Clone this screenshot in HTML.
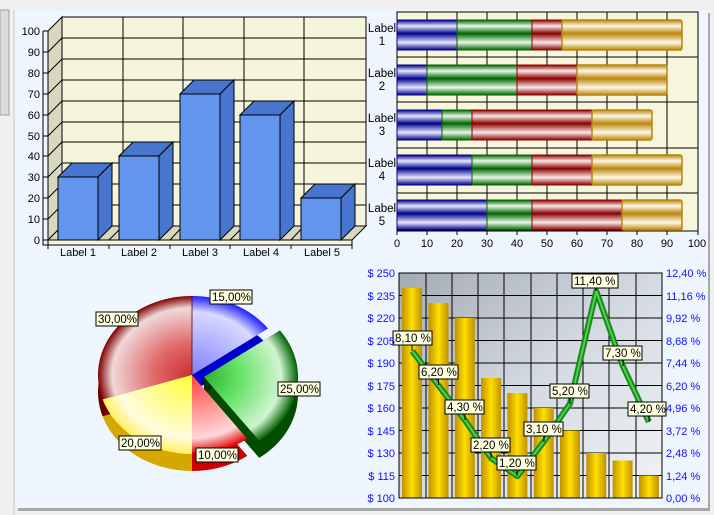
<!DOCTYPE html>
<html><head><meta charset="utf-8"><style>
html,body{margin:0;padding:0;width:714px;height:515px;overflow:hidden;background:#f0f0f0}
svg{display:block;font-family:"Liberation Sans",Tahoma,sans-serif;font-size:11px}
</style></head><body>
<svg width="714" height="515" viewBox="0 0 714 515" xmlns="http://www.w3.org/2000/svg">
<defs>
<linearGradient id="gb" x1="0" y1="0" x2="0" y2="1"><stop offset="0" stop-color="#00008b"/><stop offset=".2" stop-color="#e8e8ff"/><stop offset=".45" stop-color="#00008b"/><stop offset=".75" stop-color="#e8e8ff"/><stop offset="1" stop-color="#00008b"/></linearGradient>
<linearGradient id="gg" x1="0" y1="0" x2="0" y2="1"><stop offset="0" stop-color="#006400"/><stop offset=".2" stop-color="#e8f8e8"/><stop offset=".45" stop-color="#006400"/><stop offset=".75" stop-color="#e8f8e8"/><stop offset="1" stop-color="#006400"/></linearGradient>
<linearGradient id="gr" x1="0" y1="0" x2="0" y2="1"><stop offset="0" stop-color="#8b0000"/><stop offset=".2" stop-color="#fbe8e8"/><stop offset=".45" stop-color="#8b0000"/><stop offset=".75" stop-color="#fbe8e8"/><stop offset="1" stop-color="#8b0000"/></linearGradient>
<linearGradient id="go" x1="0" y1="0" x2="0" y2="1"><stop offset="0" stop-color="#b8860b"/><stop offset=".2" stop-color="#fff8e8"/><stop offset=".45" stop-color="#b8860b"/><stop offset=".75" stop-color="#fff8e8"/><stop offset="1" stop-color="#b8860b"/></linearGradient>
<linearGradient id="gold" x1="0" y1="0" x2="1" y2="0"><stop offset="0" stop-color="#c09000"/><stop offset=".5" stop-color="#ffe000"/><stop offset="1" stop-color="#c09000"/></linearGradient>
<linearGradient id="bg4" x1="0" y1="0" x2="1" y2="1"><stop offset="0" stop-color="#a4aab4"/><stop offset=".5" stop-color="#d4dae2"/><stop offset="1" stop-color="#f0f4f8"/></linearGradient>
<radialGradient id="pb" gradientUnits="userSpaceOnUse" cx="192" cy="375" r="94" gradientTransform="translate(0,375) scale(1,.84) translate(0,-375)"><stop offset="0" stop-color="#8080ff"/><stop offset=".8" stop-color="#d8d8ff"/><stop offset="1" stop-color="#2020ff"/></radialGradient>
<radialGradient id="pg" gradientUnits="userSpaceOnUse" cx="204" cy="377" r="94" gradientTransform="translate(0,377) scale(1,.84) translate(0,-377)"><stop offset="0" stop-color="#30b030"/><stop offset=".35" stop-color="#60e060"/><stop offset=".82" stop-color="#d0f4d0"/><stop offset="1" stop-color="#006000"/></radialGradient>
<radialGradient id="pr" gradientUnits="userSpaceOnUse" cx="192" cy="375" r="94" gradientTransform="translate(0,375) scale(1,.84) translate(0,-375)"><stop offset="0" stop-color="#ff4040"/><stop offset=".8" stop-color="#ffd8d8"/><stop offset="1" stop-color="#e00000"/></radialGradient>
<radialGradient id="py" gradientUnits="userSpaceOnUse" cx="192" cy="375" r="94" gradientTransform="translate(0,375) scale(1,.84) translate(0,-375)"><stop offset="0" stop-color="#ffff30"/><stop offset=".8" stop-color="#fffbe0"/><stop offset="1" stop-color="#fff060"/></radialGradient>
<radialGradient id="pd" gradientUnits="userSpaceOnUse" cx="192" cy="375" r="94" gradientTransform="translate(0,375) scale(1,.84) translate(0,-375)"><stop offset="0" stop-color="#c83030"/><stop offset=".4" stop-color="#e06868"/><stop offset=".85" stop-color="#f0d8d8"/><stop offset="1" stop-color="#800000"/></radialGradient>
</defs>
<!-- frame -->
<rect x="0" y="10" width="9" height="105" fill="#dcdcdc" stroke="#a0a0a0"/>
<line x1="14" y1="10" x2="14" y2="515" stroke="#c8c8c8"/>
<rect x="18" y="13" width="692" height="498" fill="#a8a8a8"/>
<rect x="15" y="10" width="693" height="498" fill="#eef5fd"/>

<!-- Chart 1 -->
<rect x="62" y="17" width="304" height="209" fill="#f5f5dc" stroke="#000"/>
<polygon points="48,31 62,17 62,226 48,240" fill="#d8d8c0" stroke="#000"/>
<polygon points="48,240 62,226 366,226 352,240" fill="#d8d8c0" stroke="#000"/>
<g stroke="#000" stroke-width="1">
<path d="M62,38H366M62,59H366M62,80H366M62,101H366M62,122H366M62,142H366M62,163H366M62,184H366M62,205H366"/>
<path d="M48,52L62,38M48,73L62,59M48,94L62,80M48,115L62,101M48,136L62,122M48,156L62,142M48,177L62,163M48,198L62,184M48,219L62,205"/>
<path d="M123,17V226M183,17V226M244,17V226M304,17V226"/>
<path d="M109,240L123,226M170,240L183,226M230,240L244,226M291,240L304,226"/>
</g>
<rect x="48" y="240" width="304" height="5" fill="#f5f5dc" stroke="#000"/>
<path d="M43,31V245H352M43,31h5M43,52h5M43,73h5M43,94h5M43,115h5M43,136h5M43,156h5M43,177h5M43,198h5M43,219h5M43,240h5M48,245v4M109,245v4M170,245v4M230,245v4M291,245v4M352,245v4" stroke="#000" fill="none"/>
<g text-anchor="end" fill="#000">
<text x="40" y="35">100</text><text x="40" y="56">90</text><text x="40" y="77">80</text><text x="40" y="98">70</text><text x="40" y="119">60</text><text x="40" y="140">50</text><text x="40" y="160">40</text><text x="40" y="181">30</text><text x="40" y="202">20</text><text x="40" y="223">10</text><text x="40" y="244">0</text>
</g>
<g text-anchor="middle"><text x="78" y="256">Label 1</text><text x="139" y="256">Label 2</text><text x="200" y="256">Label 3</text><text x="261" y="256">Label 4</text><text x="322" y="256">Label 5</text></g>
<g stroke="#000" stroke-width="1">
<polygon points="58,177 72,163 112,163 98,177" fill="#4876cf"/><polygon points="98,177 112,163 112,226 98,240" fill="#4876cf"/><rect x="58" y="177" width="40" height="63" fill="#6495ed"/>
<polygon points="119,156 133,142 173,142 159,156" fill="#4876cf"/><polygon points="159,156 173,142 173,226 159,240" fill="#4876cf"/><rect x="119" y="156" width="40" height="84" fill="#6495ed"/>
<polygon points="180,94 194,80 234,80 220,94" fill="#4876cf"/><polygon points="220,94 234,80 234,226 220,240" fill="#4876cf"/><rect x="180" y="94" width="40" height="146" fill="#6495ed"/>
<polygon points="240,115 254,101 294,101 280,115" fill="#4876cf"/><polygon points="280,115 294,101 294,226 280,240" fill="#4876cf"/><rect x="240" y="115" width="40" height="125" fill="#6495ed"/>
<polygon points="301,198 315,184 355,184 341,198" fill="#4876cf"/><polygon points="341,198 355,184 355,226 341,240" fill="#4876cf"/><rect x="301" y="198" width="40" height="42" fill="#6495ed"/>
</g>

<!-- Chart 2 -->
<rect x="397" y="12" width="301" height="219" fill="#f7f6dc" stroke="#000"/>
<g stroke="#000"><path d="M427,12V231M457,12V231M487,12V231M517,12V231M547,12V231M577,12V231M607,12V231M637,12V231M667,12V231"/>
<path d="M397,57H698M397,102H698M397,148H698M397,193H698"/>
<path d="M397,231v4M427,231v4M457,231v4M487,231v4M517,231v4M547,231v4M577,231v4M607,231v4M637,231v4M667,231v4M698,231v4"/></g>
<g>
<rect x="397" y="20" width="60" height="30" fill="url(#gb)" stroke="#00008b"/><rect x="457" y="20" width="75" height="30" fill="url(#gg)" stroke="#006400"/><rect x="532" y="20" width="30" height="30" fill="url(#gr)" stroke="#8b0000"/><rect x="562" y="20" width="120" height="30" rx="2" fill="url(#go)" stroke="#b8860b" stroke-width="1.5"/>
<rect x="397" y="65" width="30" height="30" fill="url(#gb)" stroke="#00008b"/><rect x="427" y="65" width="90" height="30" fill="url(#gg)" stroke="#006400"/><rect x="517" y="65" width="60" height="30" fill="url(#gr)" stroke="#8b0000"/><rect x="577" y="65" width="90" height="30" rx="2" fill="url(#go)" stroke="#b8860b" stroke-width="1.5"/>
<rect x="397" y="110" width="45" height="30" fill="url(#gb)" stroke="#00008b"/><rect x="442" y="110" width="30" height="30" fill="url(#gg)" stroke="#006400"/><rect x="472" y="110" width="120" height="30" fill="url(#gr)" stroke="#8b0000"/><rect x="592" y="110" width="60" height="30" rx="2" fill="url(#go)" stroke="#b8860b" stroke-width="1.5"/>
<rect x="397" y="155" width="75" height="30" fill="url(#gb)" stroke="#00008b"/><rect x="472" y="155" width="60" height="30" fill="url(#gg)" stroke="#006400"/><rect x="532" y="155" width="60" height="30" fill="url(#gr)" stroke="#8b0000"/><rect x="592" y="155" width="90" height="30" rx="2" fill="url(#go)" stroke="#b8860b" stroke-width="1.5"/>
<rect x="397" y="200" width="90" height="30" fill="url(#gb)" stroke="#00008b"/><rect x="487" y="200" width="45" height="30" fill="url(#gg)" stroke="#006400"/><rect x="532" y="200" width="90" height="30" fill="url(#gr)" stroke="#8b0000"/><rect x="622" y="200" width="60" height="30" rx="2" fill="url(#go)" stroke="#b8860b" stroke-width="1.5"/>
</g>
<g text-anchor="middle" font-size="11.5">
<text x="382" y="32">Label</text><text x="382" y="45">1</text>
<text x="382" y="77">Label</text><text x="382" y="90">2</text>
<text x="382" y="122">Label</text><text x="382" y="135">3</text>
<text x="382" y="167">Label</text><text x="382" y="180">4</text>
<text x="382" y="212">Label</text><text x="382" y="225">5</text>
</g>
<g text-anchor="middle"><text x="397" y="247">0</text><text x="427" y="247">10</text><text x="457" y="247">20</text><text x="487" y="247">30</text><text x="517" y="247">40</text><text x="547" y="247">50</text><text x="577" y="247">60</text><text x="607" y="247">70</text><text x="637" y="247">80</text><text x="667" y="247">90</text><text x="697" y="247">100</text></g>

<!-- Chart 3 pie -->
<g transform="translate(0,17)">
<path d="M192,375 L102.6,399.4 A94,79 0 0 1 192,296 Z" fill="#6b0000"/>
<path d="M192,375 L192,454 A94,79 0 0 1 102.6,399.4 Z" fill="#d4a800"/>
<path d="M192,375 L247.3,438.9 A94,79 0 0 1 192,454 Z" fill="#cc0000"/>
<path d="M192,375 L192,296 A94,79 0 0 1 268,328.5 Z" fill="#0000cc"/>
</g>
<path d="M204,377 L280,330.5 L280,347.5 L204,394 Z" fill="#0000cc"/>
<path d="M204,377 L259.3,440.9 L259.3,457.9 L204,394 Z" fill="#003000"/>
<path d="M204,394 L280,347.5 A94,79 0 0 1 259.3,457.9 Z" fill="#004d00"/>
<path d="M192,375 L102.6,399.4 A94,79 0 0 1 192,296 Z" fill="url(#pd)"/>
<path d="M192,375 L192,454 A94,79 0 0 1 102.6,399.4 Z" fill="url(#py)"/>
<path d="M192,375 L247.3,438.9 A94,79 0 0 1 192,454 Z" fill="url(#pr)"/>
<path d="M192,375 L192,296 A94,79 0 0 1 268,328.5 Z" fill="url(#pb)"/>
<path d="M204,377 L280,330.5 A94,79 0 0 1 259.3,440.9 Z" fill="url(#pg)"/>
<line x1="192" y1="296" x2="192" y2="375" stroke="#600000" stroke-width=".8"/>
<g font-size="11.5">
<rect x="210" y="290" width="42" height="14" fill="#ffffe0" stroke="#000"/><text x="212" y="301">15,00%</text>
<rect x="96" y="312" width="42" height="14" fill="#ffffe0" stroke="#000"/><text x="98" y="323">30,00%</text>
<rect x="278" y="382" width="42" height="14" fill="#ffffe0" stroke="#000"/><text x="280" y="393">25,00%</text>
<rect x="119" y="436" width="42" height="14" fill="#ffffe0" stroke="#000"/><text x="121" y="447">20,00%</text>
<rect x="196" y="448" width="42" height="14" fill="#ffffe0" stroke="#000"/><text x="198" y="459">10,00%</text>
</g>

<!-- Chart 4 -->
<rect x="399" y="273" width="263" height="225" fill="url(#bg4)"/>
<g stroke="#000"><path d="M426,273V498M452,273V498M478,273V498M504,273V498M531,273V498M557,273V498M583,273V498M609,273V498M636,273V498"/>
<path d="M399,295.5H662M399,318H662M399,340.5H662M399,363H662M399,385.5H662M399,408H662M399,430.5H662M399,453H662M399,475.5H662"/></g>
<g fill="url(#gold)">
<rect x="402" y="288" width="20" height="210"/><rect x="428.5" y="303" width="20" height="195"/><rect x="454.8" y="318" width="20" height="180"/><rect x="481.1" y="378" width="20" height="120"/><rect x="507.4" y="393" width="20" height="105"/><rect x="533.7" y="408" width="20" height="90"/><rect x="560" y="430.5" width="20" height="67.5"/><rect x="586.3" y="453" width="20" height="45"/><rect x="612.6" y="460.5" width="20" height="37.5"/><rect x="638.9" y="475.5" width="20" height="22.5"/>
</g>
<rect x="399" y="273" width="263" height="225" fill="none" stroke="#000"/>
<polyline points="412.2,351 438.5,385.5 464.8,420 491.1,458.1 517.4,476.2 543.7,441.8 570,403.6 596.3,291.1 622.6,365.5 648.9,421.8" fill="none" stroke="#1a8a1a" stroke-width="6" stroke-linejoin="round"/>
<polyline points="412.2,351 438.5,385.5 464.8,420 491.1,458.1 517.4,476.2 543.7,441.8 570,403.6 596.3,291.1 622.6,365.5 648.9,421.8" fill="none" stroke="#50d050" stroke-width="2" stroke-linejoin="round"/>
<g font-size="11.5" stroke-width="1">
<path d="M412,345v6M438.5,379v6M465,414v6M491,452v6M517,470v6M544,436v6M570,398v6M596,288v3M623,360v6M649,416v6" stroke="#000"/>
<rect x="393" y="331" width="39" height="14" fill="#ffffe0" stroke="#000"/><text x="395" y="342">8,10 %</text>
<rect x="419" y="365" width="39" height="14" fill="#ffffe0" stroke="#000"/><text x="421" y="376">6,20 %</text>
<rect x="445" y="400" width="39" height="14" fill="#ffffe0" stroke="#000"/><text x="447" y="411">4,30 %</text>
<rect x="471" y="438" width="39" height="14" fill="#ffffe0" stroke="#000"/><text x="473" y="449">2,20 %</text>
<rect x="497" y="456" width="39" height="14" fill="#ffffe0" stroke="#000"/><text x="499" y="467">1,20 %</text>
<rect x="524" y="422" width="39" height="14" fill="#ffffe0" stroke="#000"/><text x="526" y="433">3,10 %</text>
<rect x="550" y="384" width="39" height="14" fill="#ffffe0" stroke="#000"/><text x="552" y="395">5,20 %</text>
<rect x="572" y="274" width="46" height="14" fill="#ffffe0" stroke="#000"/><text x="574" y="285">11,40 %</text>
<rect x="603" y="346" width="39" height="14" fill="#ffffe0" stroke="#000"/><text x="605" y="357">7,30 %</text>
<rect x="628" y="402" width="38" height="14" fill="#ffffe0" stroke="#000"/><text x="630" y="413">4,20 %</text>
</g>
<g fill="#1010ff" text-anchor="end">
<text x="395" y="277">$ 250</text><text x="395" y="300">$ 235</text><text x="395" y="322">$ 220</text><text x="395" y="345">$ 205</text><text x="395" y="367">$ 190</text><text x="395" y="390">$ 175</text><text x="395" y="412">$ 160</text><text x="395" y="435">$ 145</text><text x="395" y="457">$ 130</text><text x="395" y="480">$ 115</text><text x="395" y="502">$ 100</text>
</g>
<g fill="#1010ff">
<text x="666" y="277">12,40 %</text><text x="666" y="300">11,16 %</text><text x="666" y="322">9,92 %</text><text x="666" y="345">8,68 %</text><text x="666" y="367">7,44 %</text><text x="666" y="390">6,20 %</text><text x="666" y="412">4,96 %</text><text x="666" y="435">3,72 %</text><text x="666" y="457">2,48 %</text><text x="666" y="480">1,24 %</text><text x="666" y="502">0,00 %</text>
</g>
</svg>
</body></html>
